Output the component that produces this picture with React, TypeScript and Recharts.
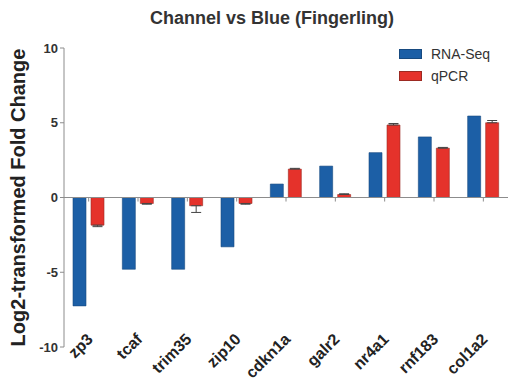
import React from 'react';
import {
  Bar,
  BarChart,
  ErrorBar,
  ReferenceLine,
  XAxis,
  YAxis,
} from 'recharts';

// Log2 fold change per gene, channel vs blue catfish (fingerling stage)
const genes = ['zp3', 'tcaf', 'trim35', 'zip10', 'cdkn1a', 'galr2', 'nr4a1', 'rnf183', 'col1a2'];
const rnaSeq = [-7.25, -4.8, -4.8, -3.3, 0.9, 2.1, 3.0, 4.05, 5.45];
const qpcr = [-1.85, -0.4, -0.55, -0.4, 1.9, 0.2, 4.85, 3.3, 5.0];
const qpcrErr = [0.1, 0.05, 0.45, 0.05, 0.05, 0.05, 0.1, 0.05, 0.15];
const yTicks = [-10, -5, 0, 5, 10];
const seriesNames = ['RNA-Seq', 'qPCR'];

const BLUE = '#1c5fa6';
const BLUE_EDGE = '#174a80';
const RED = '#e5322b';
const RED_EDGE = '#9c2a22';
const AXIS = '#8c8c8c';
const FONT = '"Liberation Sans", Arial, sans-serif';

// GraphPad-style one-sided error: whisker points away from zero
const rows = genes.map((gene, i) => ({
  gene,
  rnaSeq: rnaSeq[i],
  qpcr: qpcr[i],
  qpcrErr: qpcr[i] < 0 ? [qpcrErr[i], 0] : [0, qpcrErr[i]],
}));

function GeneTick(props: any) {
  const { x, y, payload } = props;
  return (
    <g transform={`translate(${x + 1},${y - 19}) rotate(-45)`}>
      <text
        textAnchor="end"
        fontFamily={FONT}
        fontWeight="bold"
        fontSize={16}
        fill="#222"
        dy={6}
      >
        {payload.value}
      </text>
    </g>
  );
}

function YTitle(props: any) {
  const { viewBox } = props;
  const cx = viewBox.x + 25;
  const cy = viewBox.y + viewBox.height / 2;
  return (
    <text
      transform={`translate(${cx},${cy}) rotate(-90)`}
      textAnchor="middle"
      fontFamily={FONT}
      fontWeight="bold"
      fontSize={20}
      fill="#222"
    >
      Log2-transformed Fold Change
    </text>
  );
}

function SwatchLegend() {
  const swatches = [
    { fill: BLUE, edge: BLUE_EDGE },
    { fill: RED, edge: RED_EDGE },
  ];
  return (
    <div style={{ position: 'absolute', left: 399, top: 43, fontFamily: FONT, fontSize: 14, color: '#333' }}>
      {seriesNames.map((name, i) => (
        <div key={name} style={{ display: 'flex', alignItems: 'center', height: 22 }}>
          <span
            style={{
              display: 'inline-block',
              width: 21,
              height: 8,
              background: swatches[i].fill,
              border: `1px solid ${swatches[i].edge}`,
              marginRight: 9,
            }}
          />
          {name}
        </div>
      ))}
    </div>
  );
}

export default function App() {
  return (
    <div style={{ position: 'absolute', left: 0, top: 0, width: 508, height: 385, background: '#fff' }}>
      <div
        style={{
          position: 'absolute',
          left: 0,
          width: 544,
          top: 8,
          textAlign: 'center',
          fontFamily: FONT,
          fontWeight: 'bold',
          fontSize: 18,
          color: '#333',
        }}
      >
        Channel vs Blue (Fingerling)
      </div>
      <BarChart
        width={508}
        height={385}
        data={rows}
        margin={{ top: 48, right: 0, bottom: 0, left: 0 }}
        barCategoryGap={9}
        barGap={5}
      >
        <XAxis
          dataKey="gene"
          axisLine={false}
          tickLine={false}
          height={38}
          interval={0}
          tick={<GeneTick />}
        />
        <YAxis
          domain={[-10, 10]}
          ticks={yTicks}
          width={64}
          stroke={AXIS}
          tickSize={4}
          tick={{ fontFamily: FONT, fontWeight: 'bold', fontSize: 13, fill: '#333' }}
          label={<YTitle />}
        />
        <Bar dataKey="rnaSeq" name={seriesNames[0]} fill={BLUE} stroke={BLUE_EDGE} strokeWidth={0.6} barSize={13} isAnimationActive={false} />
        <Bar dataKey="qpcr" name={seriesNames[1]} fill={RED} stroke={RED_EDGE} strokeWidth={0.6} barSize={13} isAnimationActive={false}>
          <ErrorBar dataKey="qpcrErr" width={5} stroke="#444" strokeWidth={1} />
        </Bar>
        <ReferenceLine y={0} stroke={AXIS} strokeWidth={1} />
        {genes.map((g) => (
          <ReferenceLine
            key={g}
            segment={[
              { x: g, y: 0 },
              { x: g, y: -0.27 },
            ]}
            stroke={AXIS}
            strokeWidth={1}
          />
        ))}
      </BarChart>
      <SwatchLegend />
    </div>
  );
}
